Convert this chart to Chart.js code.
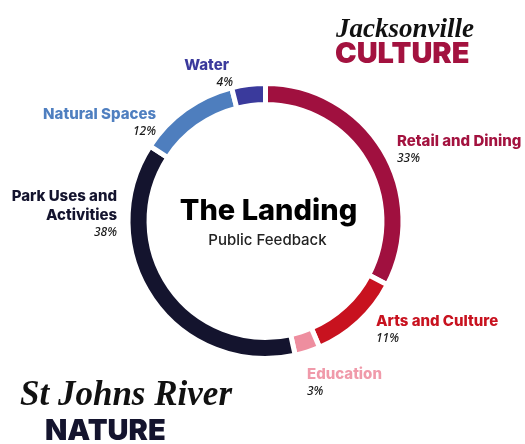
<!DOCTYPE html>
<html>
<head>
<meta charset="utf-8">
<script src="https://cdn.jsdelivr.net/npm/chart.js@4"></script>
<style>
  html, body { margin: 0; padding: 0; background: #ffffff; }
  #wrap { width: 525px; height: 444px; position: relative; }
</style>
</head>
<body>
<div id="wrap"><canvas id="c" width="525" height="444"></canvas></div>
<script>
const categories = ["Retail and Dining", "Arts and Culture", "Education", "Park Uses and Activities", "Natural Spaces", "Water"];
const values = [33, 11, 3, 38, 12, 4];
const valueLabels = ["33%", "11%", "3%", "38%", "12%", "4%"];
const colors = ["#A0103F", "#C8121F", "#EE8E9F", "#14142E", "#4E7EBE", "#3A3A9C"];
const labelColors = ["#A3123F", "#C8121F", "#F09AAA", "#14142E", "#4F7FC0", "#3B3A9C"];

// label layout: [name lines, x, first line baseline y, align]
const labelLayout = [
  { lines: ["Retail and Dining"], x: 397, y: 146, align: "left" },
  { lines: ["Arts and Culture"], x: 376, y: 326, align: "left" },
  { lines: ["Education"], x: 307, y: 379, align: "left" },
  { lines: ["Park Uses and", "Activities"], x: 117, y: 201, align: "right" },
  { lines: ["Natural Spaces"], x: 156, y: 119, align: "right" },
  { lines: ["Water"], x: 229, y: 70, align: "right" }
];

const labelPlugin = {
  id: "labels",
  afterDraw(chart) {
    const ctx = chart.ctx;
    ctx.save();
    ctx.textBaseline = "alphabetic";
    labelLayout.forEach((l, i) => {
      ctx.textAlign = l.align;
      ctx.fillStyle = labelColors[i];
      ctx.font = "800 15px Inter";
      let y = l.y;
      l.lines.forEach((t) => {
        ctx.fillText(t, l.x, y);
        y += 19;
      });
      ctx.fillStyle = "#1a1a1a";
      ctx.font = "italic 500 12px 'Noto Sans'";
      ctx.fillText(valueLabels[i], i === 5 ? l.x + 4 : l.x, y - 3);
    });

    // center text
    const arc = chart.getDatasetMeta(0).data[0];
    const cx = arc.x, cy = arc.y;
    ctx.textAlign = "center";
    ctx.fillStyle = "#000000";
    ctx.font = "800 29px Inter";
    ctx.fillText("The Landing", cx + 3, cy - 1);
    ctx.fillStyle = "#222222";
    ctx.font = "500 15px Inter";
    ctx.fillText("Public Feedback", cx + 2, cy + 24);

    // corner titles
    ctx.textAlign = "left";
    ctx.fillStyle = "#111111";
    ctx.font = "italic bold 27px 'Liberation Serif'";
    ctx.fillText("Jacksonville", 336, 37);
    ctx.fillStyle = "#A3123F";
    ctx.font = "900 29px Inter";
    ctx.fillText("CULTURE", 335, 63);

    ctx.fillStyle = "#111111";
    ctx.font = "italic bold 35px 'Liberation Serif'";
    ctx.fillText("St Johns River", 20, 405);
    ctx.fillStyle = "#14142E";
    ctx.font = "900 29px Inter";
    ctx.fillText("NATURE", 45, 440);
    ctx.restore();
  }
};

new Chart(document.getElementById("c"), {
  type: "doughnut",
  data: {
    labels: categories,
    datasets: [{
      data: values,
      backgroundColor: colors,
      hoverBackgroundColor: colors,
      borderColor: "#ffffff",
      hoverBorderColor: "#ffffff",
      borderWidth: 5,
      hoverOffset: 0
    }]
  },
  options: {
    responsive: false,
    animation: false,
    cutout: "84.7%",
    layout: { padding: { left: 125.5, top: 81, right: 119.5, bottom: 83 } },
    plugins: {
      legend: { display: false },
      tooltip: { enabled: false },
      title: { display: false }
    },
    events: []
  },
  plugins: [labelPlugin]
});
</script>
</body>
</html>
